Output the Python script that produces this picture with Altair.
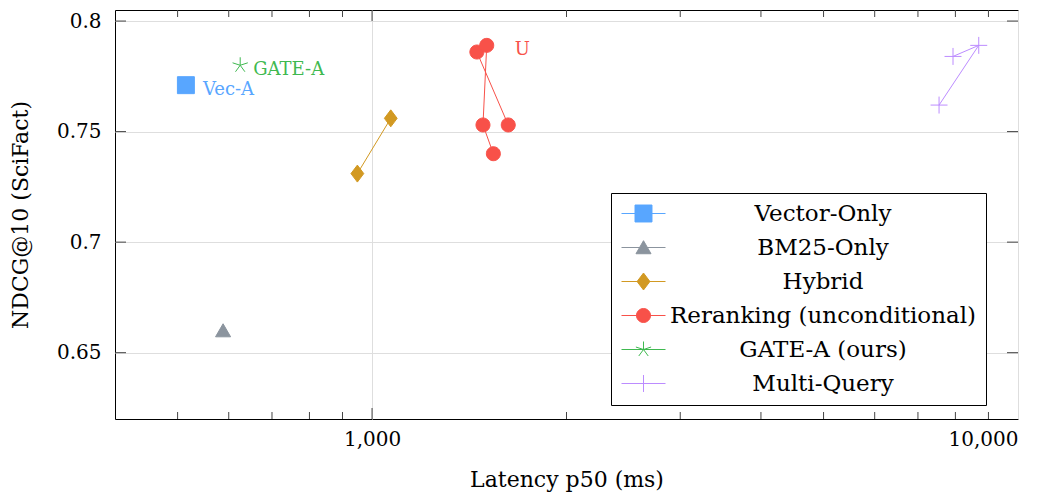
import altair as alt
import pandas as pd

methods = ["Vector-Only", "BM25-Only", "Hybrid", "Reranking (unconditional)", "GATE-A (ours)", "Multi-Query"]
colors = ["#58a6ff", "#8b949e", "#d29922", "#f85149", "#3fb950", "#bc8cff"]

vector_lat = [515]
vector_ndcg = [0.771]
bm25_lat = [588]
bm25_ndcg = [0.660]
hybrid_lat = [949, 1069]
hybrid_ndcg = [0.731, 0.756]
rerank_lat = [1625, 1453, 1505, 1485, 1541]
rerank_ndcg = [0.753, 0.786, 0.789, 0.753, 0.740]
gate_lat = [625]
gate_ndcg = [0.780]
multi_lat = [7547, 8694, 7932]
multi_ndcg = [0.762, 0.789, 0.784]

label_text = ["Vec-A", "GATE-A", "U"]
label_lat = [515, 625, 1505]
label_ndcg = [0.771, 0.780, 0.789]

x_ticks = [1000, 10000]
x_minor = [500, 600, 700, 800, 900, 2000, 3000, 4000, 5000, 6000, 7000, 8000, 9000]
y_ticks = [0.65, 0.7, 0.75, 0.8]

series = [
    (methods[0], vector_lat, vector_ndcg),
    (methods[1], bm25_lat, bm25_ndcg),
    (methods[2], hybrid_lat, hybrid_ndcg),
    (methods[3], rerank_lat, rerank_ndcg),
    (methods[4], gate_lat, gate_ndcg),
    (methods[5], multi_lat, multi_ndcg),
]
rows = []
for m, lats, ys in series:
    for i, (l, v) in enumerate(zip(lats, ys)):
        rows.append({"method": m, "latency": l, "ndcg": v, "order": i})
df = pd.DataFrame(rows)
labels = pd.DataFrame({"text": label_text, "latency": label_lat, "ndcg": label_ndcg})

# marker shapes (unit = half of sqrt(size))
sq = "M-1.06,-1.06L1.06,-1.06L1.06,1.06L-1.06,1.06Z"
tri = "M0,-0.85L0.94,0.78L-0.94,0.78Z"
dia = "M0,-1.06L0.8,0L0,1.06L-0.8,0Z"
circ = "M-0.875,0A0.875,0.875,0,1,0,0.875,0A0.875,0.875,0,1,0,-0.875,0Z"
ast = "M0,0L0,-1M0,0L0.951,-0.309M0,0L0.588,0.809M0,0L-0.588,0.809M0,0L-0.951,-0.309"
plus = "M-1.06,0L1.06,0M0,-1.06L0,1.06"
plot_shapes = [sq, tri, dia, circ, ast, plus]
line_seg = "M-2.75,0L2.75,0"
legend_shapes = [line_seg + s for s in plot_shapes]

W, H = 903, 409
FONT = "DejaVu Serif"

xscale = alt.Scale(type="log", domain=[400, 10000], nice=False)
yscale = alt.Scale(domain=[0.62, 0.805], nice=False, zero=False)
cscale = alt.Scale(domain=methods, range=colors)

x_enc = alt.X("latency:Q", scale=xscale, title="Latency p50 (ms)",
              axis=alt.Axis(values=x_ticks, labelExpr="format(datum.value, ',')", ticks=False,
                            domain=False, grid=True, labelPadding=10, titlePadding=20))
y_enc = alt.Y("ndcg:Q", scale=yscale, title="NDCG@10 (SciFact)",
              axis=alt.Axis(values=y_ticks, format="~g", ticks=False, domain=False, grid=True,
                            labelPadding=14, titlePadding=24))

base = alt.Chart(df)

lines = base.mark_line(strokeWidth=1).encode(
    x=x_enc, y=y_enc,
    color=alt.Color("method:N", scale=cscale, legend=None),
    detail="method:N",
    order="order:Q",
)

points = base.mark_point(filled=True, size=256, strokeWidth=1, opacity=1).encode(
    x=alt.X("latency:Q", scale=xscale),
    y=alt.Y("ndcg:Q", scale=yscale),
    color=alt.Color("method:N", scale=cscale, legend=None),
    stroke=alt.Stroke("method:N", scale=cscale, legend=None),
    shape=alt.Shape("method:N", scale=alt.Scale(domain=methods, range=plot_shapes), legend=None),
)

leg = alt.Legend(
    orient="none", legendX=496, legendY=183, title=None,
    padding=9, strokeColor="black", fillColor="white", cornerRadius=0,
    labelFont=FONT, labelFontSize=23, labelColor="black", labelAlign="center",
    labelLimit=500, labelOffset=168, symbolOffset=12, symbolSize=256,
    symbolStrokeWidth=1, symbolOpacity=1, rowPadding=10,
)
legend_layer = base.transform_filter("false").mark_point(filled=True, size=256, strokeWidth=1, opacity=1).encode(
    x=alt.X("latency:Q", scale=xscale),
    y=alt.Y("ndcg:Q", scale=yscale),
    color=alt.Color("method:N", scale=cscale, legend=leg),
    stroke=alt.Stroke("method:N", scale=cscale, legend=leg),
    shape=alt.Shape("method:N", scale=alt.Scale(domain=methods, range=legend_shapes), legend=leg),
)

def label_layer(name, color, dx, dy):
    return alt.Chart(labels).transform_filter(alt.datum.text == name).mark_text(
        align="left", baseline="alphabetic", dx=dx, dy=dy, font=FONT, fontSize=18, color=color
    ).encode(x=alt.X("latency:Q", scale=xscale), y=alt.Y("ndcg:Q", scale=yscale), text="text:N")

lab_vec = label_layer("Vec-A", colors[0], 17, 10)
lab_gate = label_layer("GATE-A", colors[4], 13, 10)
lab_u = label_layer("U", colors[3], 28, 10)

xminor_df = pd.DataFrame({"v": x_minor})
xmajor_df = pd.DataFrame({"v": x_ticks[:1]})
ytick_df = pd.DataFrame({"v": y_ticks})
TICK = "#444444"

def xtick_layer(data, length):
    b = alt.Chart(data).mark_rule(color=TICK, strokeWidth=1)
    xe = alt.X("v:Q", scale=xscale)
    bottom = b.encode(x=xe, y=alt.value(H), y2=alt.value(H - length))
    top = b.encode(x=xe, y=alt.value(0), y2=alt.value(length))
    return bottom + top

ye = alt.Y("v:Q", scale=yscale)
yt = alt.Chart(ytick_df).mark_rule(color=TICK, strokeWidth=1)
ytick_left = yt.encode(y=ye, x=alt.value(0), x2=alt.value(11))
ytick_right = yt.encode(y=ye, x=alt.value(W - 11), x2=alt.value(W))

chart = alt.layer(
    lines, points, legend_layer, lab_vec, lab_gate, lab_u,
    xtick_layer(xminor_df, 7), xtick_layer(xmajor_df, 11), ytick_left, ytick_right,
).resolve_scale(
    color="independent", stroke="independent", shape="independent"
).properties(
    width=W, height=H,
    autosize=alt.AutoSizeParams(type="none"),
    padding={"left": 115, "top": 10, "right": 39, "bottom": 76},
).configure_view(
    stroke="black", strokeWidth=1
).configure_axis(
    labelFont=FONT, labelFontSize=20, labelColor="black",
    titleFont=FONT, titleFontSize=22, titleColor="black", titleFontWeight="normal",
    gridColor="#dedede", gridWidth=1,
)

chart.save("out.html", embed_options={"renderer": "svg", "actions": False})
